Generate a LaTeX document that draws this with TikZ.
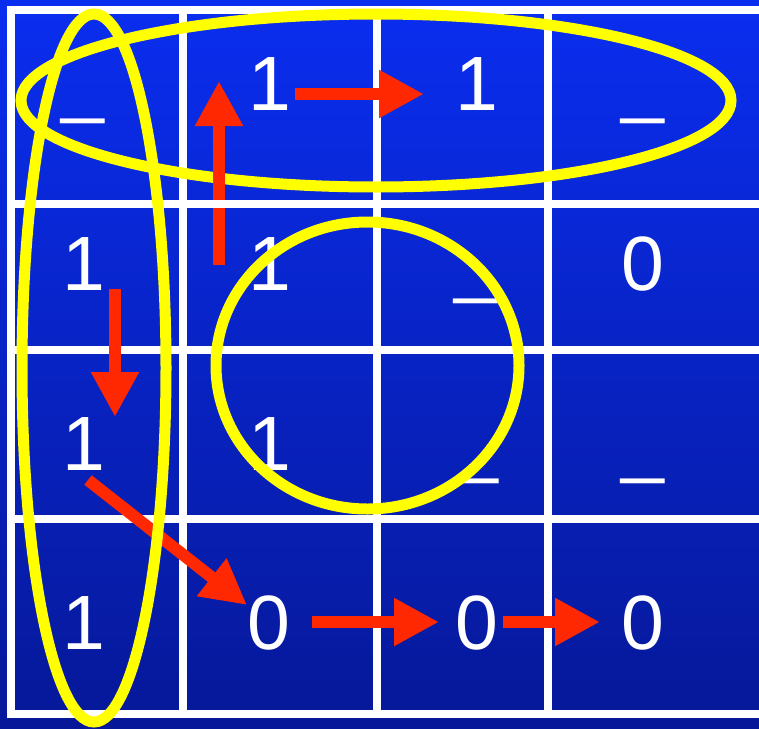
\documentclass[tikz,border=0pt]{standalone}
\usepackage{fontspec}
\setmainfont{Liberation Sans}
\usetikzlibrary{arrows.meta}
\definecolor{bgtop}{RGB}{10,46,240}
\definecolor{bgbot}{RGB}{6,24,152}
\definecolor{ringyellow}{RGB}{255,255,0}
\definecolor{arrowred}{RGB}{255,40,0}
\tikzset{
  gridline/.style={draw=white, line width=7.5pt},
  val/.style={text=white, anchor=base, inner sep=0pt, outer sep=0pt,
              font=\fontsize{77}{80}\selectfont},
  ring/.style={draw=ringyellow, line width=11pt},
  redarrow/.style={draw=arrowred, line width=12pt,
                   -{Triangle[length=45pt,width=45pt]}, fill=arrowred},
}
\begin{document}
\begin{tikzpicture}[x=1pt,y=-1pt]
\useasboundingbox (0,0) rectangle (759,728);
% background gradient
\shade[top color=bgtop, bottom color=bgbot] (0,0) rectangle (759,728);
% grid
\foreach \gx in {11,183,377,548} \draw[gridline] (\gx,6.5) -- (\gx,718);
\foreach \gy in {10,204,350,519,714} \draw[gridline] (7.25,\gy) -- (759,\gy);
% values
\node[val] (r1c1) at (83,108) {\_};
\node[val] (r1c2) at (270,110) {1};
\node[val] (r1c3) at (477,110) {1};
\node[val] (r1c4) at (643,108) {\_};
\node[val] (r2c1) at (84,290) {1};
\node[val] (r2c2) at (270,290) {1};
\node[val] (r2c3) at (476,288) {\_};
\node[val] (r2c4) at (643,290) {0};
\node[val] (r3c1) at (84,470) {1};
\node[val] (r3c2) at (270,470) {1};
\node[val] (r3c3) at (477,468) {\_};
\node[val] (r3c4) at (643,468) {\_};
\node[val] (r4c1) at (84,649) {1};
\node[val] (r4c2) at (269,649) {0};
\node[val] (r4c3) at (477,649) {0};
\node[val] (r4c4) at (643,649) {0};
% groupings
\draw[ring] (376,100.5) ellipse [x radius=355, y radius=86.5];
\draw[ring] (367.5,365.5) ellipse [x radius=151.5, y radius=143.5];
% arrow end points
\coordinate (u0) at (219,265);
\coordinate (u1) at (219,81);
\coordinate (h0) at (295,94);
\coordinate (h1) at (424,94);
\coordinate (d0) at (115,289);
\coordinate (d1) at (115,417);
\coordinate (g0) at (88,480);
\coordinate (g1) at (247,605);
\coordinate (b0) at (312,622);
\coordinate (b1) at (439,622);
\coordinate (c0) at (503,622);
\coordinate (c1) at (600,622);
% arrows
\draw[redarrow] (u0) -- (u1);
\draw[redarrow] (h0) -- (h1);
\draw[redarrow] (d0) -- (d1);
\draw[redarrow] (g0) -- (g1);
\draw[redarrow] (b0) -- (b1);
\draw[redarrow] (c0) -- (c1);
% grid line passing over the upward shaft
\draw[gridline] (212,204) -- (226,204);
% column grouping
\draw[ring] (94,368) ellipse [x radius=72, y radius=354];
\end{tikzpicture}
\end{document}
